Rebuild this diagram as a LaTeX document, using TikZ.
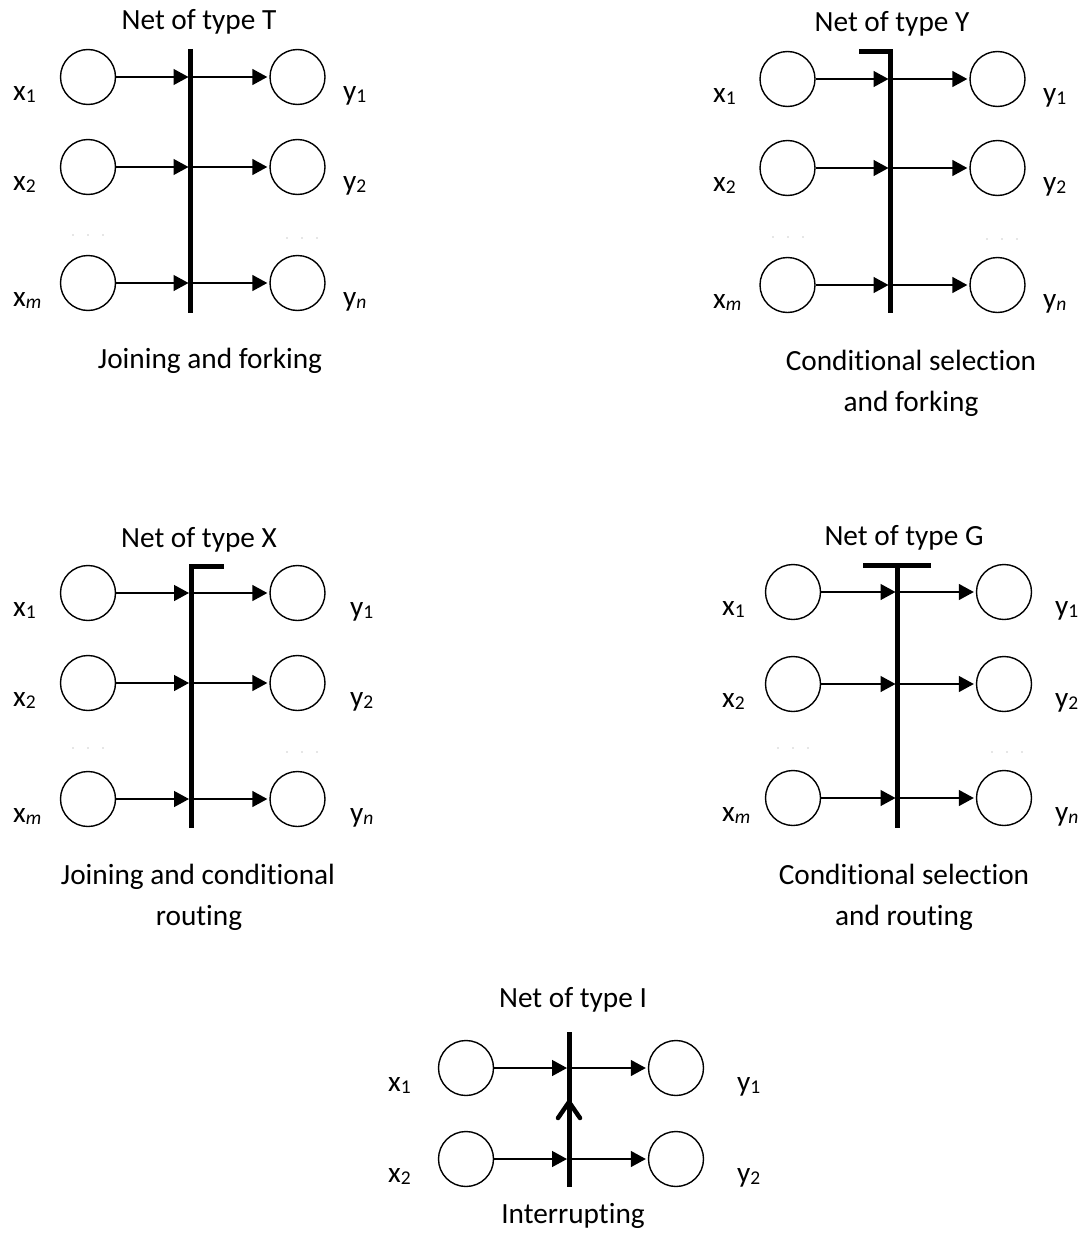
\documentclass[tikz,border=0pt]{standalone}
\usepackage{fontspec}
\setmainfont{Carlito}[Ligatures=NoCommon]
\usetikzlibrary{arrows.meta}
\newcommand{\sbs}[1]{\raisebox{-2.5pt}{\fontsize{19.5}{19.5}\selectfont #1}}
\newcommand{\netrow}[5]{%
  \node[place] (#1x#2) at (\Lx,#3) {};
  \node[place] (#1y#2) at (\Rx,#3) {};
  \coordinate (#1j#2) at (\Bx,#3);
  \node[lab, anchor=base west] (#1lx#2) at (\LLx,#3-23) {x\sbs{#4}};
  \node[lab, anchor=base west] (#1ly#2) at (\RLx,#3-23) {y\sbs{#5}};
  \draw[arr] (#1x#2) -- (#1j#2);
  \draw[arr] (#1j#2) -- (#1y#2);
}
\newcommand{\dotrow}[3]{%
  \fill[dotc] (#1-15,#2) circle (0.9) (#1,#2) circle (0.9) (#1+15,#2) circle (0.9);
}
\begin{document}
\begin{tikzpicture}[x=1pt,y=1pt,
  place/.style={circle, draw, line width=1.4pt, minimum size=55pt, inner sep=0pt},
  lab/.style={inner sep=0pt, font=\fontsize{29.3}{35}\selectfont},
  ttl/.style={inner sep=0pt, anchor=base, font=\fontsize{29.3}{35}\selectfont},
  arr/.style={line width=1.4pt, -{Triangle[length=15pt,width=16pt]}, shorten >=2pt},
  bar/.style={line width=5pt, miter limit=10},
  dotc/.style={gray!40},
  chev/.style={line width=4.5pt, line cap=round, line join=miter}]
\useasboundingbox (0,0) rectangle (1090,-1239);

% ---------------- Net of type T ----------------
\def\Lx{88}\def\Rx{297.5}\def\Bx{190.5}\def\LLx{13}\def\RLx{343}
\node[ttl] (Tt) at (199,-30) {Net of type T};
\netrow{T}{1}{-77}{1}{1}
\netrow{T}{2}{-167}{2}{2}
\netrow{T}{3}{-283}{\textit{m}}{\textit{n}}
\coordinate (Ttop) at (190.5,-49);
\coordinate (Tbot) at (190.5,-313);
\draw[bar] (Ttop) -- (Tbot);
\dotrow{88}{-235}{}
\dotrow{302}{-238}{}
\node[ttl] (Tc) at (210,-368) {Joining and forking};

% ---------------- Net of type Y ----------------
\def\Lx{787.5}\def\Rx{997.5}\def\Bx{890.5}\def\LLx{713}\def\RLx{1043}
\node[ttl] (Yt) at (892,-32) {Net of type Y};
\netrow{Y}{1}{-79}{1}{1}
\netrow{Y}{2}{-168}{2}{2}
\netrow{Y}{3}{-285}{\textit{m}}{\textit{n}}
\coordinate (Yf) at (859,-51.5);
\coordinate (Ytop) at (890.5,-51.5);
\coordinate (Ybot) at (890.5,-313);
\draw[bar] (Yf) -- (Ytop) -- (Ybot);
\dotrow{788}{-237}{}
\dotrow{1002}{-239}{}
\node[ttl] (Yc1) at (911,-370) {Conditional selection};
\node[ttl] (Yc2) at (911,-411) {and forking};

% ---------------- Net of type X ----------------
\def\Lx{88}\def\Rx{297.5}\def\Bx{191}\def\LLx{13}\def\RLx{350}
\node[ttl] (Xt) at (199,-547) {Net of type X};
\netrow{X}{1}{-593}{1}{1}
\netrow{X}{2}{-683}{2}{2}
\netrow{X}{3}{-799}{\textit{m}}{\textit{n}}
\coordinate (Xf) at (224,-566);
\coordinate (Xtop) at (191,-566);
\coordinate (Xbot) at (191,-828);
\draw[bar] (Xbot) -- (Xtop) -- (Xf);
\dotrow{88}{-748}{}
\dotrow{302}{-752}{}
\node[ttl] (Xc1) at (198,-884) {Joining and conditional};
\node[ttl] (Xc2) at (199,-925) {routing};

% ---------------- Net of type G ----------------
\def\Lx{793}\def\Rx{1004}\def\Bx{897.5}\def\LLx{722}\def\RLx{1055}
\node[ttl] (Gt) at (904,-545) {Net of type G};
\netrow{G}{1}{-592}{1}{1}
\netrow{G}{2}{-684}{2}{2}
\netrow{G}{3}{-798}{\textit{m}}{\textit{n}}
\coordinate (Gl) at (863,-565);
\coordinate (Gr) at (931,-565);
\coordinate (Gtop) at (897.5,-565);
\coordinate (Gbot) at (897.5,-828);
\draw[bar] (Gl) -- (Gr);
\draw[bar] (Gtop) -- (Gbot);
\dotrow{793}{-748}{}
\dotrow{1007}{-752}{}
\node[ttl] (Gc1) at (904,-884) {Conditional selection};
\node[ttl] (Gc2) at (904,-925) {and routing};

% ---------------- Net of type I ----------------
\def\Lx{466}\def\Rx{676}\def\Bx{569}\def\LLx{388}\def\RLx{737}
\node[ttl] (It) at (573,-1007) {Net of type I};
\netrow{I}{1}{-1068}{1}{1}
\netrow{I}{2}{-1159}{2}{2}
\coordinate (Itop) at (569,-1032);
\coordinate (Ibot) at (569,-1187);
\draw[bar] (Itop) -- (Ibot);
\coordinate (Ic1) at (558,-1118);
\coordinate (Ic2) at (569,-1102);
\coordinate (Ic3) at (580,-1118);
\draw[chev] (Ic1) -- (Ic2) -- (Ic3);
\node[ttl] (Ic) at (573,-1223) {Interrupting};
\end{tikzpicture}
\end{document}
